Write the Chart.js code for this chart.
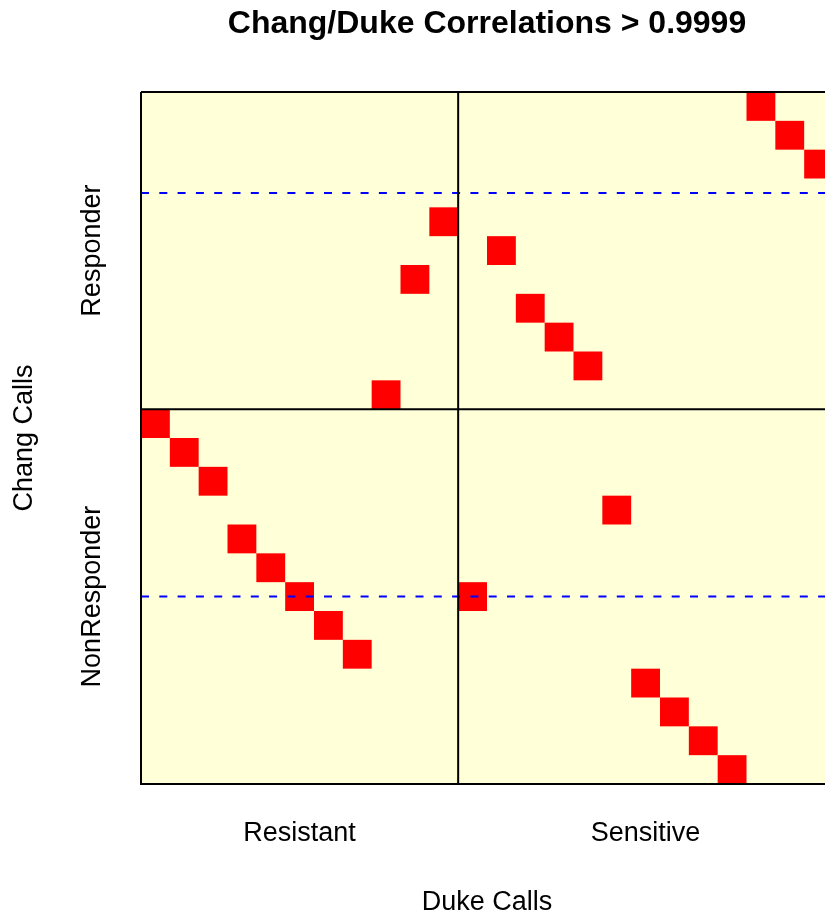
<!DOCTYPE html>
<html>
<head>
<meta charset="utf-8">
<script src="https://cdn.jsdelivr.net/npm/chart.js@4"></script>
<style>
  html, body { margin: 0; padding: 0; overflow: hidden; background: #ffffff; }
  #wrap { width: 860px; height: 913px; }
  canvas { display: block; }
</style>
</head>
<body>
<div id="wrap"><canvas id="c" width="860" height="913"></canvas></div>
<script>
// ---- data ----
const nCols = 24;
const nRows = 24;
const cellCols = [21, 22, 23, 10, 12, 9, 13, 14, 15, 8, 0, 1, 2, 16, 3, 4, 5, 11, 6, 7, 17, 18, 19, 20];
const cellRows = [0, 1, 2, 4, 5, 6, 7, 8, 9, 10, 11, 12, 13, 14, 15, 16, 17, 17, 18, 19, 20, 21, 22, 23];
const xGroupLabels = ['Resistant', 'Sensitive'];
const xGroupSizes = [11, 13];
const yGroupLabels = ['Responder', 'NonResponder'];
const yGroupSizes = [11, 13];
const dashedRowLines = [3.5, 17.5];

const chartTitle = 'Chang/Duke Correlations > 0.9999';
const xTitle = 'Duke Calls';
const yTitle = 'Chang Calls';

// ---- derived ----
function groupCenters(sizes) {
  const out = []; let acc = 0;
  for (const s of sizes) { out.push(acc + s / 2); acc += s; }
  return out;
}
const xCenters = groupCenters(xGroupSizes);
const yCenters = groupCenters(yGroupSizes);
const xSplit = xGroupSizes[0];
const ySplit = yGroupSizes[0];

const FONT = "'Liberation Sans', Arial, Helvetica, sans-serif";

const cells = cellCols.map((c, i) => ({ x: c + 0.5, y: cellRows[i] + 0.5 }));

const lineDs = (data, extra) => Object.assign({
  type: 'line', data, borderColor: '#000000', borderWidth: 2,
  pointRadius: 0, fill: false, tension: 0, clip: false, order: 0
}, extra || {});

const cellRadius = (ctx) => {
  const xs = ctx.chart.scales.x;
  const cell = Math.abs(xs.getPixelForValue(1) - xs.getPixelForValue(0));
  return cell / 2 * Math.SQRT2;
};

const datasets = [
  lineDs([{ x: 0, y: 0 }, { x: nCols, y: 0 }, { x: nCols, y: nRows }, { x: 0, y: nRows }, { x: 0, y: 0 }]),
  lineDs([{ x: xSplit, y: 0 }, { x: xSplit, y: nRows }]),
  lineDs([{ x: 0, y: ySplit }, { x: nCols, y: ySplit }]),
  ...dashedRowLines.map(r => lineDs([{ x: 0, y: r }, { x: nCols, y: r }], {
    borderColor: '#0000ff', borderWidth: 2, borderDash: [8, 10.3]
  })),
  {
    type: 'scatter',
    data: cells,
    order: 1,
    pointStyle: 'rect',
    backgroundColor: '#ff0000',
    borderWidth: 0,
    pointBorderWidth: 0,
    pointRadius: cellRadius,
    pointHoverRadius: cellRadius
  }
];

const bgPlugin = {
  id: 'plotBg',
  beforeDatasetsDraw(chart) {
    const { ctx, chartArea: a } = chart;
    ctx.save();
    ctx.fillStyle = '#ffffd8';
    ctx.fillRect(a.left, a.top, a.right - a.left, a.bottom - a.top);
    ctx.restore();
  }
};

const yLabelPlugin = {
  id: 'yGroupLabels',
  afterDraw(chart) {
    const { ctx } = chart;
    const ys = chart.scales.y;
    ctx.save();
    ctx.fillStyle = '#000000';
    ctx.font = '27px ' + FONT;
    ctx.textAlign = 'center';
    ctx.textBaseline = 'middle';
    yGroupLabels.forEach((lab, i) => {
      const py = ys.getPixelForValue(yCenters[i]);
      const px = ys.right - 48;
      ctx.save();
      ctx.translate(px, py);
      ctx.rotate(-Math.PI / 2);
      ctx.fillText(lab, 0, 0);
      ctx.restore();
    });
    ctx.restore();
  }
};

new Chart(document.getElementById('c'), {
  type: 'scatter',
  data: { datasets },
  plugins: [bgPlugin, yLabelPlugin],
  options: {
    responsive: false,
    animation: false,
    events: [],
    layout: { padding: { left: 0, right: 27, top: 0, bottom: 0 } },
    plugins: {
      legend: { display: false },
      tooltip: { enabled: false },
      title: {
        display: true,
        text: chartTitle,
        fullSize: false,
        color: '#000000',
        font: { family: FONT, size: 32, weight: 'bold', lineHeight: 1 },
        padding: { top: 8, bottom: 52 }
      }
    },
    scales: {
      x: {
        type: 'linear',
        min: 0,
        max: nCols,
        grid: { display: false, drawTicks: false },
        border: { display: false },
        afterBuildTicks: (scale) => { scale.ticks = xCenters.map(v => ({ value: v })); },
        afterFit: (scale) => { scale.height = 129; },
        ticks: {
          autoSkip: false,
          maxRotation: 0,
          minRotation: 0,
          padding: 36,
          color: '#000000',
          font: { family: FONT, size: 27, lineHeight: 1 },
          callback: (v, i) => xGroupLabels[i]
        },
        title: {
          display: true,
          text: xTitle,
          color: '#000000',
          font: { family: FONT, size: 27, lineHeight: 1 },
          padding: { top: 0, bottom: -3 }
        }
      },
      y: {
        type: 'linear',
        min: 0,
        max: nRows,
        reverse: true,
        grid: { display: false, drawTicks: false },
        border: { display: false },
        ticks: { display: false },
        afterFit: (scale) => { scale.width = 141; },
        title: {
          display: true,
          text: yTitle,
          color: '#000000',
          font: { family: FONT, size: 27, lineHeight: 1 },
          padding: { top: 11.5, bottom: 0 }
        }
      }
    }
  }
});
</script>
</body>
</html>
